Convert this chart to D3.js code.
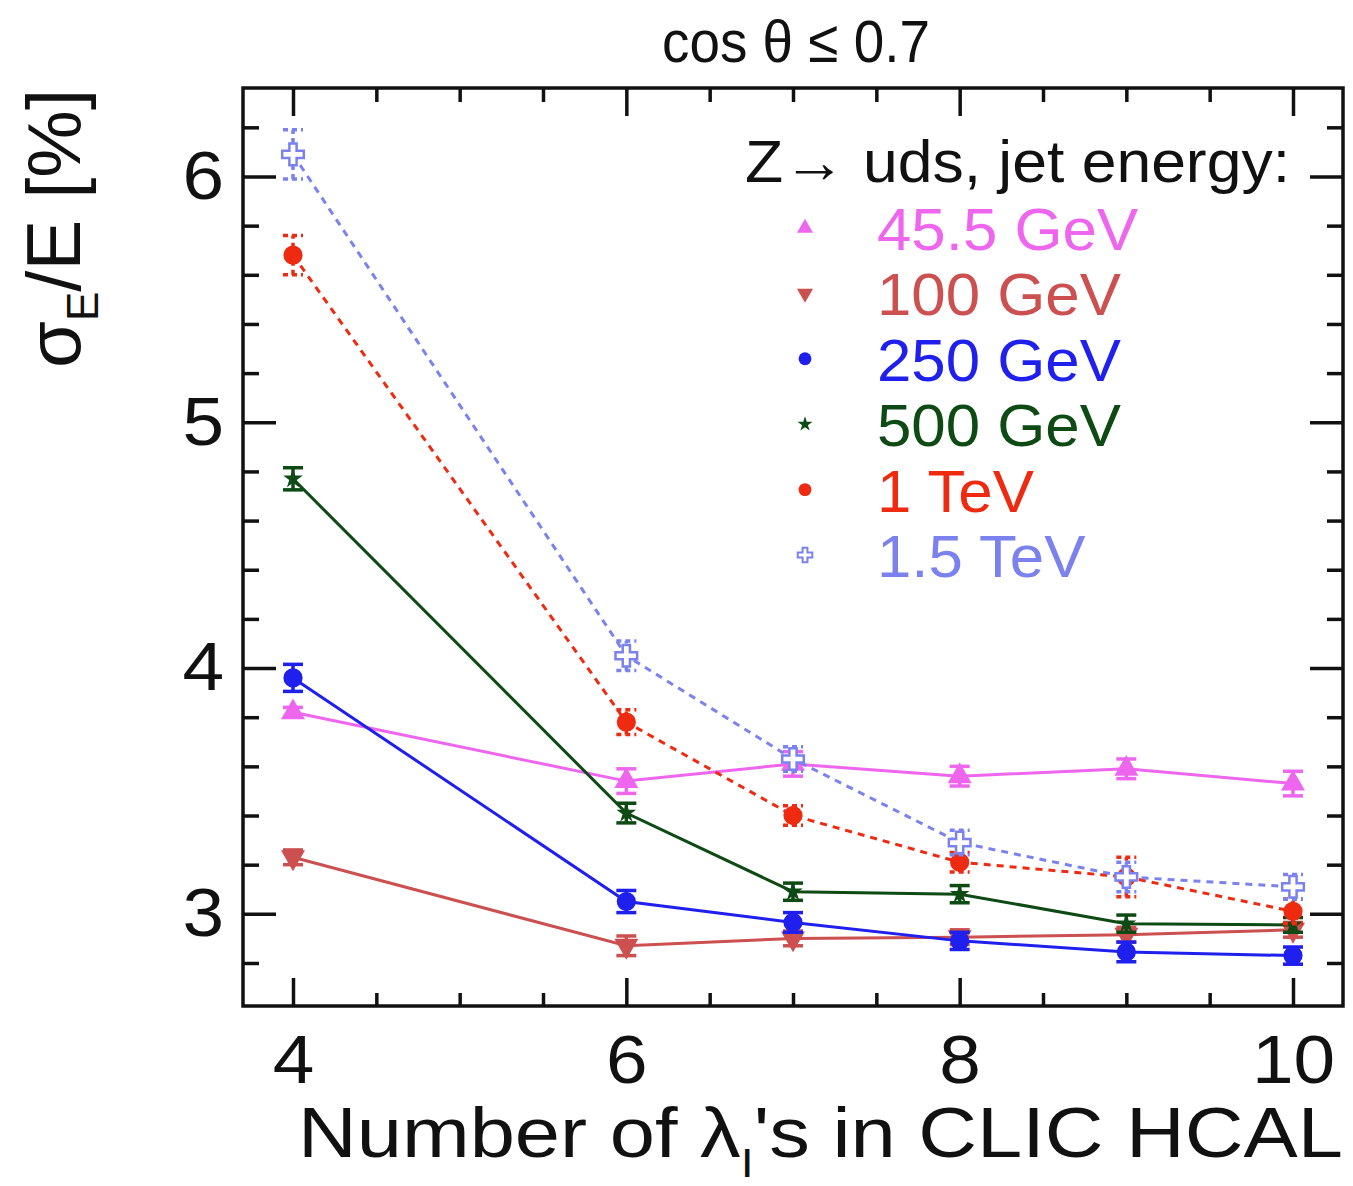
<!DOCTYPE html>
<html>
<head>
<meta charset="utf-8">
<script src="https://cdn.jsdelivr.net/npm/d3@7"></script>
<style>
  body { margin: 0; background: #fff; }
  svg { display: block; font-family: "Liberation Sans", Arial, Helvetica, sans-serif; }
</style>
</head>
<body>
<script>
// jet energy resolution vs HCAL depth chart

(function(){
  // *************************************************** //
  // data
  var xValues = [4, 6, 7, 8, 9, 10];
  var seriesNames = ["45.5 GeV", "100 GeV", "250 GeV", "500 GeV", "1 TeV", "1.5 TeV"];

  var res45 = [3.82, 3.54, 3.61, 3.56, 3.59, 3.53];
  var err45 = [0.02, 0.05, 0.05, 0.04, 0.04, 0.05];
  var res100 = [3.23, 2.87, 2.90, 2.905, 2.915, 2.935];
  var err100 = [0.03, 0.04, 0.03, 0.03, 0.03, 0.03];
  var res250 = [3.96, 3.05, 2.965, 2.89, 2.845, 2.83];
  var err250 = [0.055, 0.045, 0.04, 0.035, 0.04, 0.035];
  var res500 = [4.77, 3.41, 3.09, 3.08, 2.96, 2.955];
  var err500 = [0.045, 0.04, 0.035, 0.035, 0.035, 0.03];
  var res1000 = [5.68, 3.78, 3.40, 3.21, 3.15, 3.01];
  var err1000 = [0.08, 0.05, 0.04, 0.04, 0.08, 0.05];
  var res1500 = [6.09, 4.05, 3.63, 3.29, 3.15, 3.11];
  var err1500 = [0.1, 0.06, 0.05, 0.05, 0.06, 0.05];

  var xMajorTicks = [4, 6, 8, 10];
  var yMajorTicks = [3, 4, 5, 6];

  // *************************************************** //
  // frame
  var width = 1353,
      height = 1186;

  var svg = d3.select("body")
    .append("svg")
    .attr("width", width)
    .attr("height", height);

  var plotLeft = 243, plotRight = 1343, plotTop = 88, plotBottom = 1006;

  var x = d3.scaleLinear()
    .domain([3.7, 10.3])
    .range([plotLeft, plotRight]);

  var y = d3.scaleLinear()
    .domain([2.625, 6.36])
    .range([plotBottom, plotTop]);

  // series styling
  var series = [
    {name: seriesNames[0], vals: res45, errs: err45, color: "#ee66ee", dash: null, shape: "triUp"},
    {name: seriesNames[1], vals: res100, errs: err100, color: "#cc5050", dash: null, shape: "triDown"},
    {name: seriesNames[2], vals: res250, errs: err250, color: "#1f1fee", dash: null, shape: "circle"},
    {name: seriesNames[3], vals: res500, errs: err500, color: "#0d4a14", dash: null, shape: "star"},
    {name: seriesNames[4], vals: res1000, errs: err1000, color: "#ee2a10", dash: "7,6", shape: "circle"},
    {name: seriesNames[5], vals: res1500, errs: err1500, color: "#7b82ee", dash: "7,6", shape: "cross"}
  ];

  // widen text glyphs horizontally (reference text is stretched)
  function stretch(sel, factor){
    sel.each(function(){
      var len = this.getComputedTextLength();
      d3.select(this)
        .attr("textLength", len * factor)
        .attr("lengthAdjust", "spacingAndGlyphs");
    });
  }

  // *************************************************** //
  // axes: ticks point inward on all four sides
  var xMinor = d3.range(4, 10.01, 0.5).filter(function(v){ return xMajorTicks.indexOf(v) < 0; });
  var yMinor = d3.range(2.8, 6.31, 0.2).map(function(v){ return Math.round(v * 10) / 10; })
    .filter(function(v){ return yMajorTicks.indexOf(v) < 0; });

  function drawAxis(axisGen, transform, showLabels){
    var g = svg.append("g")
      .attr("transform", transform)
      .call(axisGen);
    g.select(".domain").remove();
    g.selectAll("line").attr("stroke", "#111").attr("stroke-width", 3.5);
    if (!showLabels) g.selectAll("text").remove();
    return g;
  }

  // bottom
  drawAxis(d3.axisBottom(x).tickValues(xMinor).tickSize(-13).tickFormat(""), "translate(0," + plotBottom + ")", false);
  var xb = drawAxis(d3.axisBottom(x).tickValues(xMajorTicks).tickSize(-28).tickPadding(29).tickFormat(d3.format("d")), "translate(0," + plotBottom + ")", true);
  xb.selectAll("text").attr("font-size", 68).attr("fill", "#111").attr("font-family", "Liberation Sans, Arial, sans-serif");
  stretch(xb.selectAll("text"), 1.1);
  // top
  drawAxis(d3.axisTop(x).tickValues(xMinor).tickSize(-14), "translate(0," + plotTop + ")", false);
  drawAxis(d3.axisTop(x).tickValues(xMajorTicks).tickSize(-28), "translate(0," + plotTop + ")", false);
  // left
  drawAxis(d3.axisLeft(y).tickValues(yMinor).tickSize(-16), "translate(" + plotLeft + ",0)", false);
  var yl = drawAxis(d3.axisLeft(y).tickValues(yMajorTicks).tickSize(-33).tickPadding(19).tickFormat(d3.format("d")), "translate(" + plotLeft + ",0)", true);
  yl.selectAll("text").attr("font-size", 68).attr("fill", "#111").attr("font-family", "Liberation Sans, Arial, sans-serif");
  stretch(yl.selectAll("text"), 1.1);
  // right
  drawAxis(d3.axisRight(y).tickValues(yMinor).tickSize(-16), "translate(" + plotRight + ",0)", false);
  drawAxis(d3.axisRight(y).tickValues(yMajorTicks).tickSize(-33), "translate(" + plotRight + ",0)", false);

  // frame box
  svg.append("rect")
    .attr("x", plotLeft)
    .attr("y", plotTop)
    .attr("width", plotRight - plotLeft)
    .attr("height", plotBottom - plotTop)
    .attr("fill", "none")
    .attr("stroke", "#111")
    .attr("stroke-width", 3.5);

  // *************************************************** //
  // markers
  function symbolPath(shape, big){
    var k = big ? 1 : 0.45;
    if (shape == "triUp") return d3.symbol(d3.symbolTriangle, 250 * k)();
    if (shape == "triDown") return d3.symbol(d3.symbolTriangle, 250 * k)();
    if (shape == "circle") return d3.symbol(d3.symbolCircle, 290 * k)();
    if (shape == "star") return d3.symbol(d3.symbolStar, (big ? 120 : 70))();
    if (shape == "cross") return d3.symbol(d3.symbolCross, 260 * k)();
  }

  function markerTransform(shape, px, py){
    var t = "translate(" + px + "," + py + ")";
    if (shape == "triDown") t += " rotate(180)";
    return t;
  }

  var line = d3.line()
    .x(function(d){ return x(d.x); })
    .y(function(d){ return y(d.y); });

  series.forEach(function(s){
    var pts = xValues.map(function(xv, i){ return {x: xv, y: s.vals[i], e: s.errs[i]}; });
    var g = svg.append("g").attr("class", "series");

    // connecting line
    g.append("path")
      .datum(pts)
      .attr("d", line)
      .attr("fill", "none")
      .attr("stroke", s.color)
      .attr("stroke-width", 3)
      .attr("stroke-dasharray", s.dash);

    // error bars with caps
    var eb = g.selectAll(".err")
      .data(pts)
      .enter()
      .append("g")
      .attr("class", "err")
      .attr("stroke", s.color)
      .attr("stroke-width", 3.5)
      .attr("stroke-dasharray", s.dash ? "5,4" : null);
    eb.append("line")
      .attr("x1", function(d){ return x(d.x); })
      .attr("x2", function(d){ return x(d.x); })
      .attr("y1", function(d){ return y(d.y - d.e); })
      .attr("y2", function(d){ return y(d.y + d.e); });
    [-1, 1].forEach(function(sgn){
      eb.append("line")
        .attr("x1", function(d){ return x(d.x) - 10; })
        .attr("x2", function(d){ return x(d.x) + 10; })
        .attr("y1", function(d){ return y(d.y + sgn * d.e); })
        .attr("y2", function(d){ return y(d.y + sgn * d.e); });
    });

    // point markers
    g.selectAll(".mk")
      .data(pts)
      .enter()
      .append("path")
      .attr("class", "mk")
      .attr("d", symbolPath(s.shape, true))
      .attr("transform", function(d){ return markerTransform(s.shape, x(d.x), y(d.y)); })
      .attr("fill", s.shape == "cross" ? "#fff" : s.color)
      .attr("stroke", s.color)
      .attr("stroke-width", s.shape == "cross" ? 2.5 : 0);
  });

  // *************************************************** //
  // legend
  var legend = svg.append("g").attr("class", "legend");
  legend.append("text")
    .attr("x", 745)
    .attr("y", 182)
    .attr("font-size", 60)
    .attr("fill", "#111")
    .attr("textLength", 545)
    .attr("lengthAdjust", "spacingAndGlyphs")
    .text("Z\u2192 uds, jet energy:");

  var rowY = d3.scaleLinear().domain([0, 5]).range([228, 555]);
  series.forEach(function(s, i){
    legend.append("path")
      .attr("d", symbolPath(s.shape, false))
      .attr("transform", markerTransform(s.shape, 805, rowY(i)))
      .attr("fill", s.shape == "cross" ? "#fff" : s.color)
      .attr("stroke", s.color)
      .attr("stroke-width", s.shape == "cross" ? 2 : 0);
    var t = legend.append("text")
      .attr("x", 877)
      .attr("y", rowY(i) + 22)
      .attr("font-size", 60)
      .attr("fill", s.color)
      .text(s.name);
    stretch(t, 1.03);
  });

  // *************************************************** //
  // titles
  svg.append("text")
    .attr("x", 662)
    .attr("y", 62)
    .attr("font-size", 60)
    .attr("fill", "#111")
    .attr("textLength", 268)
    .attr("lengthAdjust", "spacingAndGlyphs")
    .text("cos \u03b8 \u2264 0.7");

  var xt = svg.append("text")
    .attr("x", 298)
    .attr("y", 1157)
    .attr("font-size", 70)
    .attr("fill", "#111")
    .attr("textLength", 1045)
    .attr("lengthAdjust", "spacingAndGlyphs");
  xt.append("tspan").text("Number of \u03bb");
  xt.append("tspan").attr("font-size", 40).attr("dy", 20).text("I");
  xt.append("tspan").attr("dy", -20).text("'s in CLIC HCAL");

  var yt = svg.append("text")
    .attr("transform", "translate(80,89) rotate(-90)")
    .attr("text-anchor", "end")
    .attr("font-size", 76)
    .attr("fill", "#111");
  yt.append("tspan").text("\u03c3");
  yt.append("tspan").attr("font-size", 44).attr("dy", 18).text("E");
  yt.append("tspan").attr("dy", -18).text("/E [%]");
})();
</script>
</body>
</html>
